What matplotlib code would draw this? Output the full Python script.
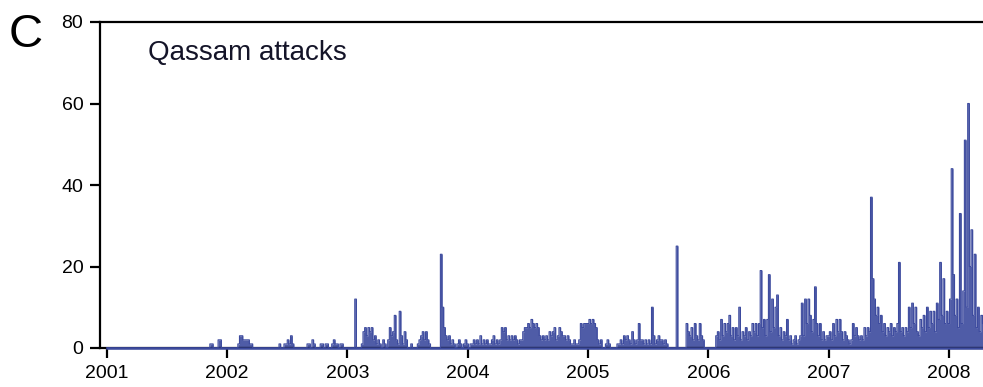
import numpy as np
import matplotlib
matplotlib.use("Agg")
import matplotlib.pyplot as plt
import matplotlib.dates as mdates

# daily counts, one value per 5-day step from Jan 1 of each year
STEP_DAYS = 5
y2001 = [0] * 63 + [1, 1, 0, 0, 0, 2, 2, 0, 0, 0]
y2002 = [0, 0, 0, 0, 0, 0, 0, 1, 3, 3, 2, 2, 2, 2, 1, 1, 0,
         0, 0, 0, 0, 0, 0, 0, 0, 0, 0, 0, 0, 0, 0, 0,
         1, 0, 0, 1, 1, 2, 1, 3, 1, 0,
         0, 0, 0, 0, 0, 0, 0,
         1, 1, 0, 2, 1, 0, 0, 0, 1, 1, 0, 1, 1, 0, 0, 1, 2, 1, 1, 0, 1, 1, 0, 0]
y2003 = [0, 0, 0, 0, 0, 12, 0, 0, 0, 1,
         4, 5, 3, 5, 4, 5, 2, 3, 1, 2, 1, 0, 2, 1, 0, 2, 5, 3, 4, 8,
         2, 1, 9, 3, 1, 4, 2, 0, 0, 1, 0, 0, 0, 1, 2, 3, 4, 2, 4, 2,
         1, 0, 0, 0, 0, 0, 0, 23, 10, 5, 3, 2, 3, 1, 2, 1, 0, 1, 2, 1,
         0, 1, 2]
y2004 = [1, 0, 1, 1, 2, 1, 2, 1, 3, 1, 2, 1, 2, 1, 1, 2, 3, 1, 2, 1,
         2, 5, 4, 5, 2, 3, 2, 3, 2, 3, 2, 1, 2, 2, 4, 5, 5, 6, 5, 7,
         6, 5, 6, 5, 3, 2, 3, 2, 3, 2, 4, 3, 4, 5, 2, 3, 5, 4, 3, 3,
         2, 3, 2, 1, 1, 2, 1, 1, 2, 6, 5, 6, 6]
y2005 = [6, 7, 6, 7, 6, 5, 2, 1, 2, 0, 0, 1, 2, 1, 0, 0, 0, 0, 1, 1,
         2, 1, 3, 2, 3, 2, 1, 4, 2, 1, 2, 6, 2, 2, 1, 2, 1, 2, 1, 10,
         3, 1, 2, 3, 2, 2, 1, 2, 1, 0, 0, 0, 0, 0, 25, 0, 0, 0, 0, 0,
         6, 4, 3, 5, 2, 6, 3, 2, 6, 3, 2, 0, 0]
y2006 = [0, 0, 0, 0, 0, 3, 4, 2, 7, 3, 6, 4, 6, 8, 3, 5, 2, 5, 3, 10,
         2, 4, 3, 5, 2, 4, 3, 6, 4, 6, 3, 6, 19, 5, 7, 3, 7, 18, 4, 12,
         5, 10, 13, 3, 5, 2, 4, 3, 7, 2, 3, 1, 2, 3, 1, 2, 3, 11, 3, 12,
         6, 12, 8, 4, 7, 15, 6, 3, 6, 2, 4, 2, 3]
y2007 = [3, 4, 2, 6, 3, 7, 4, 7, 4, 2, 4, 3, 2, 1, 2, 6, 3, 5, 3, 2,
         3, 2, 5, 3, 5, 4, 37, 17, 12, 8, 10, 6, 8, 4, 6, 3, 5, 4, 6, 3,
         5, 4, 6, 21, 4, 5, 3, 5, 4, 10, 5, 11, 6, 10, 4, 3, 7, 5, 8, 4,
         10, 5, 9, 6, 9, 4, 11, 7, 21, 8, 17, 6, 9]
y2008 = [6, 12, 44, 18, 8, 12, 5, 33, 6, 14, 51, 10, 60, 20, 29, 8, 23, 5, 10, 4,
         8, 6]

years = [2001, 2002, 2003, 2004, 2005, 2006, 2007, 2008]
yearData = [y2001, y2002, y2003, y2004, y2005, y2006, y2007, y2008]

# 날짜 축 만들기
dates = []
counts = []
for yr, vals in zip(years, yearData):
    start = np.datetime64("%d-01-01" % yr)
    for i, v in enumerate(vals):
        dates.append(start + np.timedelta64(i * STEP_DAYS, "D"))
        counts.append(v)
dates = np.array(dates, dtype="datetime64[D]")
counts = np.array(counts)

plt.rcParams["font.family"] = ["Liberation Sans", "DejaVu Sans"]

fig = plt.figure(figsize=(9.83, 3.87), dpi=100)
ax = fig.add_axes([100 / 983., 39 / 387., 1 - 100 / 983., 326 / 387.])

# 값 그리기 (dense daily series looks filled in the original)
blue = "#3c4a9e"
ax.fill_between(dates, 0, counts, step="mid", color=blue, lw=0, alpha=0.9, zorder=2)
ax.plot(dates, counts, color=blue, lw=0.8, drawstyle="steps-mid", zorder=3)
ax.plot([dates[0], dates[-1]], [0, 0], color=blue, lw=1.8, zorder=4, clip_on=False)

# 축 정보
ax.set_ylim(0, 80)
ax.set_yticks([0, 20, 40, 60, 80])
ax.set_xlim(np.datetime64("2000-12-11"), np.datetime64("2008-04-14"))
ax.xaxis.set_major_locator(mdates.YearLocator())
ax.xaxis.set_major_formatter(mdates.DateFormatter("%Y"))
ax.tick_params(direction="out", length=7, width=1.6, labelsize=14, pad=5)
for side in ["left", "top", "bottom"]:
    ax.spines[side].set_linewidth(1.6)
ax.spines["right"].set_visible(False)

# 제목, 패널 글자
fig.text(148 / 983., 1 - 60 / 387., "Qassam attacks", fontsize=20,
         color="#141428", va="baseline")
fig.text(9 / 983., 1 - 47 / 387., "C", fontsize=34, va="baseline")

fig.savefig("out.png", dpi=100)
